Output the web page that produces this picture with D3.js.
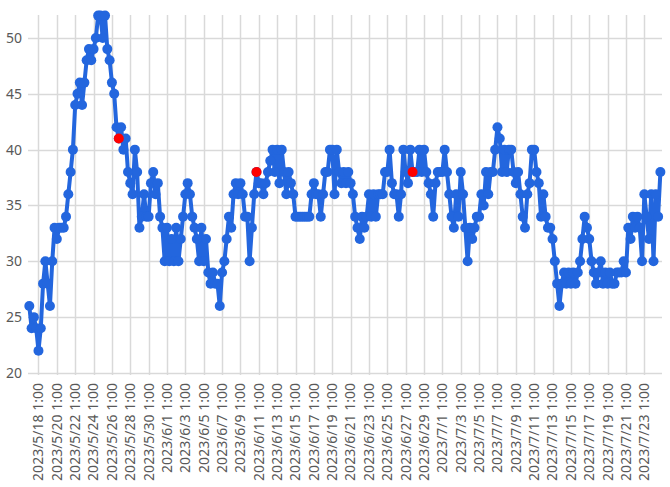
<!DOCTYPE html>
<html><head><meta charset="utf-8">
<script src="https://cdn.jsdelivr.net/npm/d3@7"></script>
<style>body{margin:0;background:#fff;}svg{display:block;}</style>
</head><body>
<svg id="chart" width="670" height="487"></svg>
<script>
// first sample time and step (hours)
const startTime = "2023-05-17 01:00";
const stepHours = 6;
// values, 4 samples per day
const values = [
  26,24,25,24, 22,24,28,30, 28,26,30,33, 32,33,33,33,
  34,36,38,40, 44,45,46,44, 46,48,49,48, 49,50,52,52,
  50,52,49,48, 46,45,42,41, 42,40,41,38, 37,36,40,38,
  33,34,36,34, 34,37,38,36, 37,34,33,30, 33,30,32,30,
  33,30,32,34, 36,37,36,34, 33,32,30,33, 30,32,29,28,
  29,28,28,26, 29,30,32,34, 33,36,37,36, 37,36,34,34,
  30,33,36,38, 37,37,36,37, 38,39,40,38, 40,37,40,38,
  36,38,37,36, 34,34,34,34, 34,34,34,36, 37,36,36,34,
  36,38,38,40, 40,36,40,38, 37,38,37,38, 37,36,34,33,
  32,34,33,34, 36,34,36,34, 36,36,36,38, 38,40,37,36,
  36,34,36,40, 38,37,40,38, 38,38,40,38, 40,38,37,36,
  34,37,38,38, 38,40,38,36, 34,33,36,34, 38,36,33,30,
  33,32,33,34, 34,36,35,38, 36,38,38,40, 42,41,38,40,
  38,40,40,38, 37,38,36,34, 33,36,37,40, 40,38,37,34,
  36,34,33,33, 32,30,28,26, 28,29,28,29, 28,29,28,29,
  30,32,34,33, 32,30,29,28, 29,30,28,29, 28,29,28,28,
  29,29,29,30, 29,33,32,34, 33,34,33,30, 36,34,32,36,
  30,36,34,38
];
// highlighted (red) sample indices
const highlightIdx = [39, 99, 167];
// axis ticks
const yTicks = [20, 25, 30, 35, 40, 45, 50];
const xTickStart = "2023-05-18 01:00";
const xTickCount = 34;
const xTickEveryDays = 2;

const parse = d3.timeParse("%Y-%m-%d %H:%M");
const t0 = parse(startTime);
const data = values.map((v, i) => ({t: d3.timeHour.offset(t0, i * stepHours), v, i}));
const xTicks = d3.range(xTickCount).map(k => d3.timeDay.offset(parse(xTickStart), k * xTickEveryDays));

const svg = d3.select("#chart");
const pLeft = 28, pRight = 662, pTop = 15, pBottom = 373;
const x = d3.scaleTime().domain([data[0].t, data[data.length - 1].t]).range([29.3, 660.4]);
const y = d3.scaleLinear().domain([20, 52]).range([pBottom, pTop + 0.6]);

const grid = svg.append("g");
grid.selectAll("line.h").data(yTicks).join("line").attr("class", "h")
  .attr("x1", pLeft).attr("x2", pRight)
  .attr("y1", d => Math.round(y(d)) + 0.5).attr("y2", d => Math.round(y(d)) + 0.5)
  .attr("stroke", "#d9d9d9").attr("stroke-width", 1.5);
grid.selectAll("line.v").data(xTicks).join("line").attr("class", "v")
  .attr("x1", d => Math.round(x(d)) + 0.5).attr("x2", d => Math.round(x(d)) + 0.5)
  .attr("y1", pTop).attr("y2", pBottom + 2)
  .attr("stroke", "#d9d9d9").attr("stroke-width", 1.5);

const font = "'Noto Sans', 'Open Sans', sans-serif";
svg.append("g").selectAll("text").data(yTicks).join("text")
  .attr("x", 22).attr("y", d => y(d)).attr("dy", "0.35em")
  .attr("text-anchor", "end").attr("font-family", font).attr("font-size", 14)
  .attr("fill", "#595959").text(d => d);

const fmt = d3.timeFormat("%Y/%-m/%-d %-H:%M");
svg.append("g").selectAll("text").data(xTicks).join("text")
  .attr("transform", d => `translate(${x(d)},383) rotate(-90)`)
  .attr("dy", "0.35em").attr("text-anchor", "end")
  .attr("font-family", font).attr("font-size", 14)
  .attr("fill", "#595959").text(d => fmt(d));

const color = "#2366de";
svg.append("path").datum(data)
  .attr("d", d3.line().x(d => x(d.t)).y(d => y(d.v)))
  .attr("fill", "none").attr("stroke", color).attr("stroke-width", 4)
  .attr("stroke-linejoin", "round");
svg.append("g").selectAll("circle").data(data).join("circle")
  .attr("cx", d => x(d.t)).attr("cy", d => y(d.v)).attr("r", 5)
  .attr("fill", color);
svg.append("g").selectAll("circle").data(highlightIdx.map(i => data[i])).join("circle")
  .attr("cx", d => x(d.t)).attr("cy", d => y(d.v)).attr("r", 5)
  .attr("fill", "#ff0000");
</script>
</body></html>
